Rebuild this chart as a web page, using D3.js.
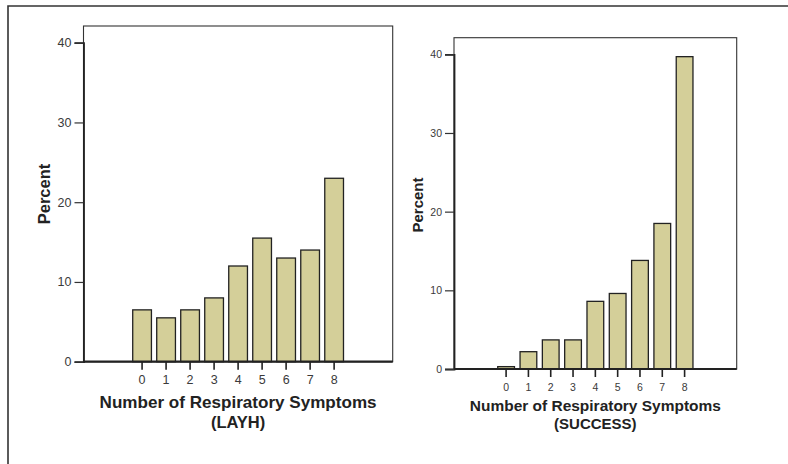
<!DOCTYPE html>
<html>
<head>
<meta charset="utf-8">
<script src="https://d3js.org/d3.v7.min.js"></script>
<style>
  body { margin: 0; background: #fff; }
  svg { display: block; font-family: "Liberation Sans", Arial, sans-serif; }
</style>
</head>
<body>
<div id="chart"></div>
<script>
// symptom counts on the x axis, same for both panels
var symptoms = ["0", "1", "2", "3", "4", "5", "6", "7", "8"];
// percent per symptom count
var layhPercent = [6.5, 5.5, 6.5, 8, 12, 15.5, 13, 14, 23];
var successPercent = [0.3, 2.2, 3.7, 3.7, 8.6, 9.6, 13.8, 18.5, 39.7];
var yTicks = [0, 10, 20, 30, 40];

var barFill = "#d4cf99";

var svg = d3.select("#chart")
  .append("svg")
    .attr("width", 788)
    .attr("height", 464);

// outer frame: only top and left edges show
svg.append("path")
  .attr("d", "M8,464V6H788")
  .attr("fill", "none")
  .attr("stroke", "#333")
  .attr("stroke-width", 1.6);

function panel(opts) {
  var g = svg.append("g");

  var x = d3.scaleBand()
    .domain(symptoms)
    .range([opts.left, opts.right])
    .paddingInner(opts.padInner)
    .paddingOuter(opts.padOuter);

  var y = d3.scaleLinear()
    .domain([0, 40])
    .range([opts.bottom, opts.y40]);

  // plot frame
  g.append("rect")
    .attr("x", opts.left)
    .attr("y", opts.top)
    .attr("width", opts.right - opts.left)
    .attr("height", opts.bottom - opts.top)
    .attr("fill", "none")
    .attr("stroke", "#333")
    .attr("stroke-width", 1.1);

  // bars
  g.selectAll(".bar")
    .data(opts.values)
    .enter()
    .append("rect")
      .attr("x", function(d, i) { return x(symptoms[i]); })
      .attr("y", function(d) { return y(d); })
      .attr("width", x.bandwidth())
      .attr("height", function(d) { return opts.bottom - y(d); })
      .attr("fill", barFill)
      .attr("stroke", "#222")
      .attr("stroke-width", 1.3);

  // y axis
  var ya = g.append("g")
    .attr("transform", "translate(" + opts.left + ",0)")
    .call(d3.axisLeft(y).tickValues(yTicks).tickSize(9).tickPadding(3));
  ya.attr("font-size", null).attr("font-family", null);
  ya.select(".domain").attr("stroke", "#222").attr("stroke-width", 1.8);
  ya.selectAll(".tick line").attr("stroke", "#333").attr("stroke-width", 1.2);
  ya.selectAll(".tick text")
    .style("font-size", opts.tickFont + "px")
    .attr("fill", "#3a3a3a");

  // x axis
  var xa = g.append("g")
    .attr("transform", "translate(0," + opts.bottom + ")")
    .call(d3.axisBottom(x).tickSizeInner(opts.xTickLen).tickSizeOuter(0).tickPadding(opts.xTickPad));
  xa.attr("font-size", null).attr("font-family", null);
  xa.select(".domain")
    .attr("d", "M" + opts.left + ",0H" + opts.right)
    .attr("stroke", "#222").attr("stroke-width", 2.2);
  xa.selectAll(".tick line").attr("stroke", "#222").attr("stroke-width", 1.6);
  xa.selectAll(".tick text")
    .style("font-size", opts.tickFont + "px")
    .attr("fill", "#3a3a3a");

  var cx = (opts.left + opts.right) / 2;

  // axis titles
  g.append("text")
    .attr("x", cx)
    .attr("y", opts.titleY)
    .attr("text-anchor", "middle")
    .attr("font-weight", "bold")
    .attr("font-size", opts.titleFont)
    .attr("fill", "#222")
    .attr("textLength", opts.titleLen)
    .attr("lengthAdjust", "spacingAndGlyphs")
    .text("Number of Respiratory Symptoms");

  g.append("text")
    .attr("x", cx)
    .attr("y", opts.subY)
    .attr("text-anchor", "middle")
    .attr("font-weight", "bold")
    .attr("font-size", opts.titleFont)
    .attr("fill", "#222")
    .text(opts.sub);

  g.append("text")
    .attr("transform", "translate(" + opts.percentX + "," + opts.percentY + ") rotate(-90)")
    .attr("text-anchor", "middle")
    .attr("font-weight", "bold")
    .attr("font-size", opts.titleFont)
    .attr("fill", "#222")
    .text("Percent");
}

panel({
  values: layhPercent, sub: "(LAYH)",
  left: 83.5, right: 392.7, top: 26, bottom: 361.7, y40: 42.7,
  padInner: 0.22, padOuter: 2.05,
  tickFont: 12.5, xTickLen: 8, xTickPad: 5,
  titleFont: 16.5, titleLen: 277, titleY: 408, subY: 428,
  percentX: 50, percentY: 194
});

panel({
  values: successPercent, sub: "(SUCCESS)",
  left: 454, right: 736.7, top: 37.7, bottom: 369, y40: 54.3,
  padInner: 0.25, padOuter: 1.96,
  tickFont: 10.5, xTickLen: 8, xTickPad: 7,
  titleFont: 15, titleLen: 251, titleY: 411, subY: 429,
  percentX: 423, percentY: 205
});
</script>
</body>
</html>
